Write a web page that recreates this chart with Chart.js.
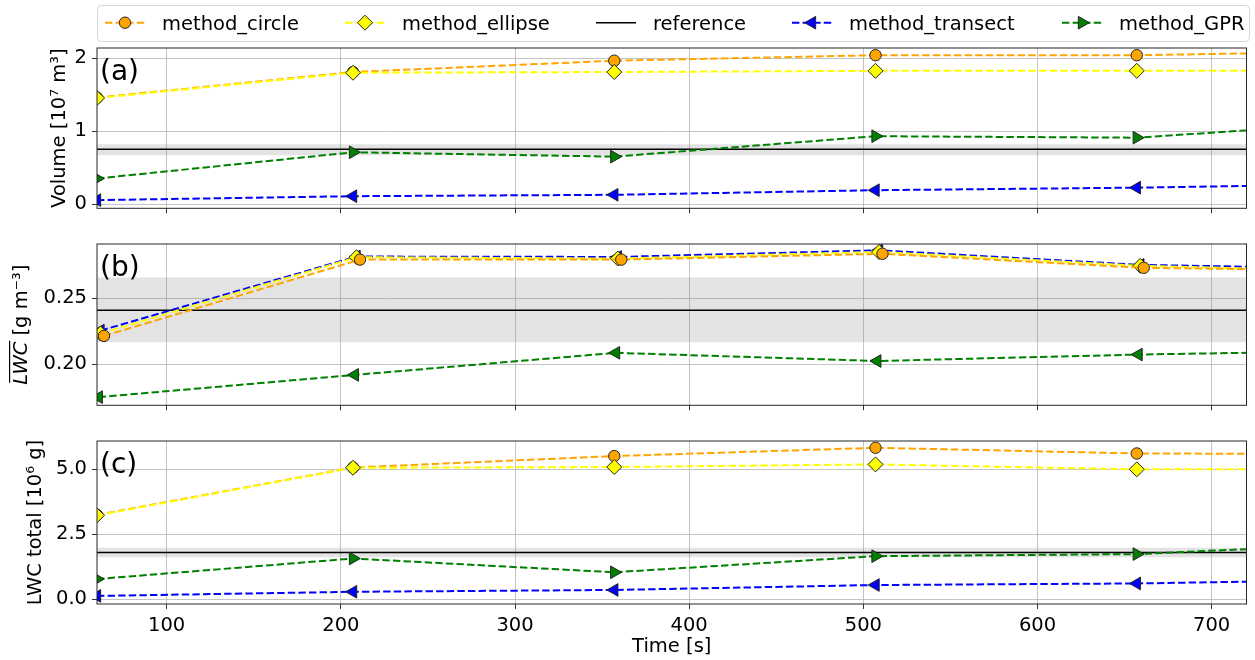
<!DOCTYPE html>
<html>
<head>
<meta charset="utf-8">
<script src="https://cdn.jsdelivr.net/npm/chart.js@4.4.1/dist/chart.umd.min.js"></script>
<style>
  html, body { margin: 0; padding: 0; background: #fff; }
  #wrap { width: 1255px; height: 660px; position: relative; }
  .panel { position: absolute; left: 0; width: 1255px; }
</style>
</head>
<body>
<div id="wrap">
  <div class="panel" style="top:0;height:225px"><canvas id="cA"></canvas></div>
  <div class="panel" style="top:225px;height:197px"><canvas id="cB"></canvas></div>
  <div class="panel" style="top:422px;height:238px"><canvas id="cC"></canvas></div>
</div>
<script>
// ---- data ----
const xRange = [60, 720];
const xTicks = [100, 200, 300, 400, 500, 600, 700];

// (a) volume [10^7 m^3]
const timeA = [60, 207, 357, 507, 657, 720];
const volCircle   = [1.46, 1.81, 1.965, 2.04, 2.04, 2.065];
const volEllipse  = [1.453, 1.80, 1.81, 1.826, 1.826, 1.826];
const volTransect = [0.054, 0.108, 0.127, 0.19, 0.225, 0.248];
const volGPR      = [0.35, 0.71, 0.65, 0.93, 0.91, 1.01];
const volRef = 0.75;
const volBand = [0.67, 0.82];
const yTicksA = [0, 1, 2];

// (b) mean LWC [g m^-3]
const timeBCircle  = [64, 211, 361, 511, 661, 720];
const timeBEllipse = [62, 209, 359, 509, 659, 720];
const timeBOther   = [61, 208, 358, 508, 658, 720];
const lwcCircle   = [0.2215, 0.2792, 0.2792, 0.2836, 0.2730, 0.2720];
const lwcEllipse  = [0.2233, 0.2810, 0.2800, 0.2850, 0.2745, 0.2725];
const lwcTransect = [0.2255, 0.2815, 0.2812, 0.2862, 0.2752, 0.2738];
const lwcGPR      = [0.1752, 0.1920, 0.2087, 0.2025, 0.2074, 0.2087];
const lwcRef = 0.2408;
const lwcBand = [0.2166, 0.2656];
const yTicksB = [0.20, 0.25];

// (c) LWC total [10^6 g]
const timeC = [60, 207, 357, 507, 657, 720];
const totCircle   = [3.25, 5.07, 5.51, 5.83, 5.61, 5.60];
const totEllipse  = [3.23, 5.06, 5.09, 5.19, 5.00, 5.00];
const totTransect = [0.13, 0.29, 0.36, 0.55, 0.61, 0.68];
const totGPR      = [0.78, 1.57, 1.04, 1.66, 1.74, 1.93];
const totRef = 1.80;
const totBand = [1.62, 1.98];
const yTicksC = [0.0, 2.5, 5.0];

// ---- styling ----
Chart.defaults.font.family = '"DejaVu Sans", sans-serif';
Chart.defaults.color = '#000';
const FS = 19.5;
const DASH = [7.4, 3.2];

const STY = {
  circle:   { color: '#FFA500', pointStyle: 'circle',   r: 5.7, rot: 0 },
  ellipse:  { color: '#FFFF00', pointStyle: 'rectRot',  r: 7.5, rot: 0 },
  transect: { color: '#0000FF', pointStyle: 'triangle', r: 7.3, rot: -90 },
  gpr:      { color: '#008000', pointStyle: 'triangle', r: 7.3, rot: 90 }
};

function series(label, key, xs, ys, rot) {
  const s = STY[key];
  return {
    label: label,
    data: xs.map((x, i) => ({ x: x, y: ys[i] })),
    borderColor: s.color,
    backgroundColor: s.color,
    borderWidth: 2,
    borderDash: DASH,
    pointStyle: s.pointStyle,
    pointRotation: rot === undefined ? s.rot : rot,
    pointRadius: xs.map((x, i) => (i < xs.length - 1 ? s.r : 0)),
    pointBackgroundColor: s.color,
    pointBorderColor: '#222',
    pointBorderWidth: 1,
    fill: false,
    tension: 0
  };
}

function refLine(y) {
  return {
    label: 'reference',
    data: [{ x: xRange[0], y: y }, { x: xRange[1], y: y }],
    borderColor: '#000', borderWidth: 1.5, pointRadius: 0, fill: false
  };
}

function bandSets(b) {
  return [
    { label: 'band_hi', data: [{ x: xRange[0], y: b[1] }, { x: xRange[1], y: b[1] }],
      borderColor: 'rgba(0,0,0,0)', borderWidth: 1, pointRadius: 0,
      backgroundColor: 'rgba(128,128,128,0.22)', fill: '+1' },
    { label: 'band_lo', data: [{ x: xRange[0], y: b[0] }, { x: xRange[1], y: b[0] }],
      borderColor: 'rgba(0,0,0,0)', borderWidth: 1, pointRadius: 0, fill: false }
  ];
}

// ---- plugins ----
const framePlugin = {
  id: 'frame',
  afterDatasetsDraw(chart) {
    const { ctx, chartArea: a } = chart;
    ctx.save();
    ctx.strokeStyle = '#262626';
    ctx.lineWidth = 1;
    ctx.strokeRect(a.left, a.top, a.right - a.left, a.bottom - a.top);
    ctx.restore();
  }
};

const panelLabelPlugin = {
  id: 'panelLabel',
  afterDraw(chart, args, o) {
    if (!o.text) return;
    const { ctx, chartArea: a } = chart;
    ctx.save();
    ctx.font = '28px "DejaVu Sans"';
    ctx.fillStyle = '#000';
    ctx.textBaseline = 'alphabetic';
    ctx.fillText(o.text, a.left + 3, a.top + 32);
    ctx.restore();
  }
};

const yTitlePlugin = {
  id: 'yTitle',
  afterDraw(chart, args, o) {
    if (!o.parts) return;
    const { ctx, chartArea: a } = chart;
    const fontFor = p => (p.italic ? 'italic ' : '') + FS + 'px "DejaVu Sans"';
    ctx.save();
    ctx.translate(o.x, (a.top + a.bottom) / 2);
    ctx.rotate(-Math.PI / 2);
    ctx.fillStyle = '#000';
    ctx.textBaseline = 'alphabetic';
    ctx.textAlign = 'left';
    let w = 0;
    o.parts.forEach(p => { ctx.font = fontFor(p); w += ctx.measureText(p.text).width; });
    let x = -w / 2;
    o.parts.forEach(p => {
      ctx.font = fontFor(p);
      const pw = ctx.measureText(p.text).width;
      ctx.fillText(p.text, x, 0);
      if (p.overline) ctx.fillRect(x + 2, -18, pw - 1, 1.2);
      x += pw;
    });
    ctx.restore();
  }
};

const boxLegendPlugin = {
  id: 'boxLegend',
  afterDraw(chart, args, o) {
    if (!o.items) return;
    const ctx = chart.ctx;
    ctx.save();
    // frame
    const bx = 97.5, by = 5.5, bw = 1152, bh = 36, rr = 4;
    ctx.beginPath();
    ctx.moveTo(bx + rr, by);
    ctx.arcTo(bx + bw, by, bx + bw, by + bh, rr);
    ctx.arcTo(bx + bw, by + bh, bx, by + bh, rr);
    ctx.arcTo(bx, by + bh, bx, by, rr);
    ctx.arcTo(bx, by, bx + bw, by, rr);
    ctx.closePath();
    ctx.fillStyle = 'rgba(255,255,255,0.8)';
    ctx.fill();
    ctx.strokeStyle = '#d6d6d6';
    ctx.lineWidth = 1;
    ctx.stroke();

    const yLine = 22.7;
    o.items.forEach(it => {
      const ds = chart.data.datasets.find(d => d.label === it.label);
      ctx.save();
      ctx.strokeStyle = ds.borderColor;
      ctx.lineWidth = ds.borderWidth;
      ctx.setLineDash(ds.borderDash || []);
      ctx.beginPath();
      ctx.moveTo(it.x, yLine);
      ctx.lineTo(it.x + 40, yLine);
      ctx.stroke();
      ctx.setLineDash([]);
      const r = Array.isArray(ds.pointRadius) ? ds.pointRadius[0] : ds.pointRadius;
      if (r > 0) {
        ctx.fillStyle = ds.pointBackgroundColor;
        ctx.strokeStyle = ds.pointBorderColor;
        ctx.lineWidth = ds.pointBorderWidth;
        Chart.helpers.drawPoint(ctx, {
          pointStyle: ds.pointStyle, rotation: ds.pointRotation || 0,
          radius: r, borderWidth: ds.pointBorderWidth
        }, it.x + 20, yLine);
      }
      ctx.fillStyle = '#000';
      ctx.font = FS + 'px "DejaVu Sans"';
      ctx.textBaseline = 'alphabetic';
      ctx.fillText(it.label, it.x + 57, 29.5);
      ctx.restore();
    });
    ctx.restore();
  }
};

// ---- panels ----
function fixedTicks(list) {
  return function (scale) { scale.ticks = list.map(v => ({ value: v })); };
}

function makePanel(id, datasets, cfg) {
  return new Chart(document.getElementById(id), {
    type: 'line',
    data: { datasets: datasets },
    options: {
      responsive: true,
      maintainAspectRatio: false,
      animation: false,
      events: [],
      layout: { padding: { top: cfg.padTop, right: 3, left: 0, bottom: 0 } },
      scales: {
        x: {
          type: 'linear',
          min: xRange[0], max: xRange[1],
          afterBuildTicks: fixedTicks(xTicks),
          afterFit: s => { s.height = cfg.xAxisH; },
          border: { display: false },
          grid: { color: 'rgba(176,176,176,0.75)', lineWidth: 1, tickLength: 5, tickColor: '#333' },
          ticks: { display: cfg.xLabels, padding: 5, font: { size: FS }, maxRotation: 0 },
          title: { display: cfg.xLabels, text: 'Time [s]', font: { size: FS }, padding: { top: 0, bottom: 1 } }
        },
        y: {
          type: 'linear',
          min: cfg.yMin, max: cfg.yMax,
          afterBuildTicks: fixedTicks(cfg.yTicks),
          afterFit: s => { s.width = 97; },
          border: { display: false },
          grid: { color: 'rgba(176,176,176,0.75)', lineWidth: 1, tickLength: 5, tickColor: '#333' },
          ticks: { padding: 5, font: { size: FS }, callback: v => v.toFixed(cfg.dec) }
        }
      },
      plugins: {
        legend: { display: false },
        tooltip: { enabled: false },
        panelLabel: { text: cfg.label },
        yTitle: { x: cfg.titleX, parts: cfg.titleParts },
        boxLegend: cfg.legend || {}
      }
    },
    plugins: [framePlugin, panelLabelPlugin, yTitlePlugin, boxLegendPlugin]
  });
}

// first dataset in each list is drawn on top
makePanel('cA', [
  series('method_ellipse', 'ellipse', timeA, volEllipse),
  series('method_circle', 'circle', timeA, volCircle),
  series('method_transect', 'transect', timeA, volTransect),
  series('method_GPR', 'gpr', timeA, volGPR),
  refLine(volRef)
].concat(bandSets(volBand)), {
  padTop: 48, xAxisH: 14, xLabels: false,
  yMin: -0.058, yMax: 2.139, yTicks: yTicksA, dec: 0,
  label: '(a)', titleX: 64.5,
  titleParts: [{ text: 'Volume [10\u2077 m\u00b3]' }],
  legend: {
    items: [
      { label: 'method_circle', x: 105 },
      { label: 'method_ellipse', x: 345 },
      { label: 'reference', x: 596 },
      { label: 'method_transect', x: 792 },
      { label: 'method_GPR', x: 1062 }
    ]
  }
});

// in (b) the GPR markers point left and the transect markers sit under the diamonds
makePanel('cB', [
  series('method_circle', 'circle', timeBCircle, lwcCircle),
  series('method_ellipse', 'ellipse', timeBEllipse, lwcEllipse),
  series('method_transect', 'transect', timeBEllipse, lwcTransect),
  series('method_GPR', 'gpr', timeBOther, lwcGPR, -90),
  refLine(lwcRef)
].concat(bandSets(lwcBand)), {
  padTop: 19, xAxisH: 14, xLabels: false,
  yMin: 0.169, yMax: 0.291, yTicks: yTicksB, dec: 2,
  label: '(b)', titleX: 27,
  titleParts: [{ text: 'LWC', italic: true, overline: true }, { text: ' [g m\u207b\u00b3]' }]
});

makePanel('cC', [
  series('method_ellipse', 'ellipse', timeC, totEllipse),
  series('method_circle', 'circle', timeC, totCircle),
  series('method_transect', 'transect', timeC, totTransect),
  series('method_GPR', 'gpr', timeC, totGPR),
  refLine(totRef)
].concat(bandSets(totBand)), {
  padTop: 19, xAxisH: 56, xLabels: true,
  yMin: -0.18, yMax: 6.09, yTicks: yTicksC, dec: 1,
  label: '(c)', titleX: 40.5,
  titleParts: [{ text: 'LWC total [10\u2076 g]' }]
});
</script>
</body>
</html>
